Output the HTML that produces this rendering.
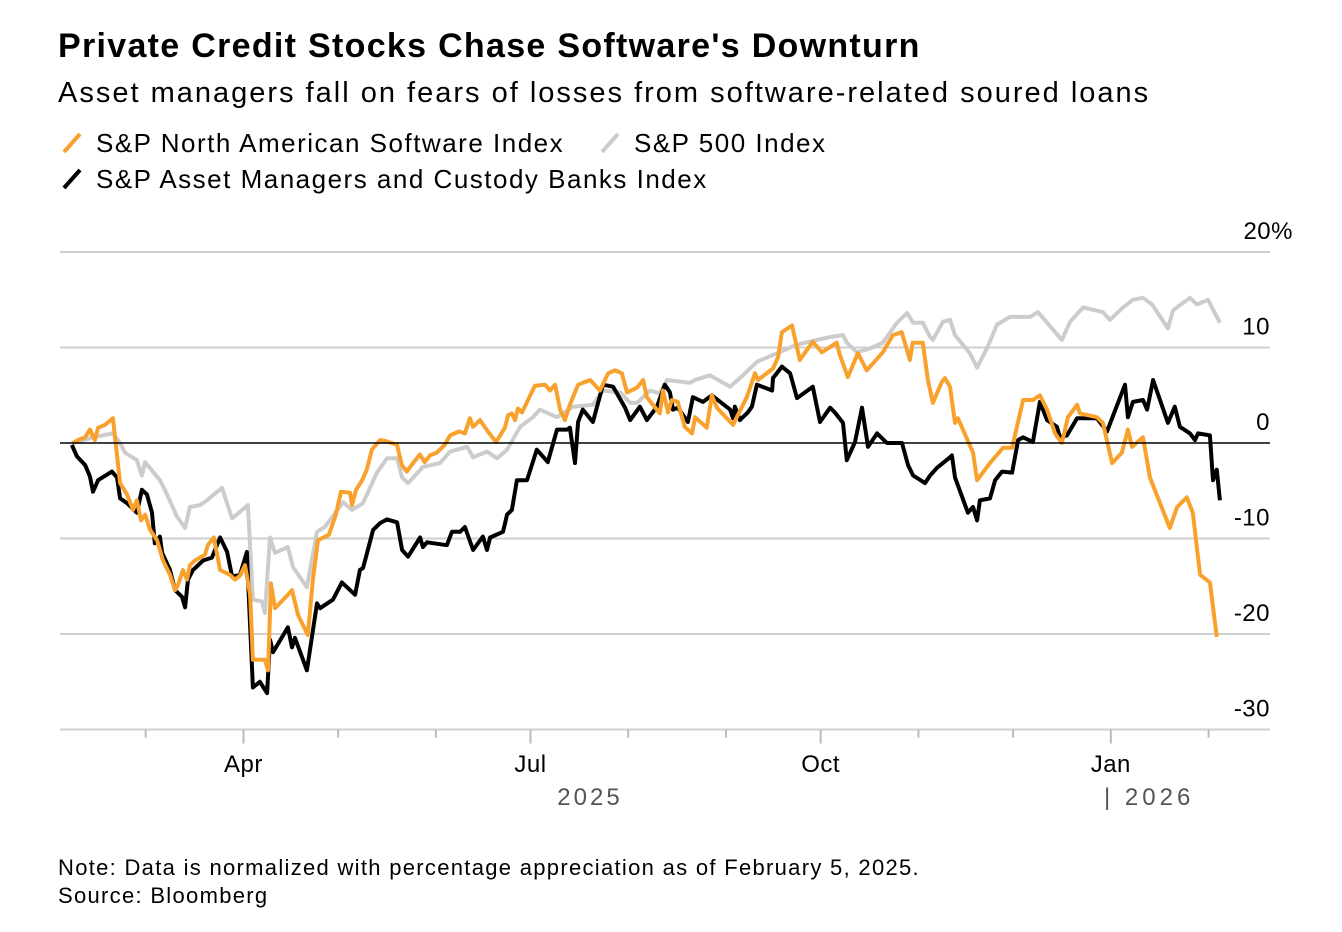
<!DOCTYPE html>
<html><head><meta charset="utf-8">
<style>
body{margin:0;background:#fff;font-family:"Liberation Sans",sans-serif;color:#000;}
#wrap{position:relative;width:1342px;height:932px;overflow:hidden;}
.t{position:absolute;white-space:nowrap;}
</style></head>
<body>
<div id="wrap">
<div class="t" style="left:58px;top:27px;font-size:34px;font-weight:bold;letter-spacing:1.3px;">Private Credit Stocks Chase Software's Downturn</div>
<div class="t" style="left:58px;top:77px;font-size:29px;letter-spacing:2px;">Asset managers fall on fears of losses from software-related soured loans</div>
<div class="t" style="left:60px;top:128px;font-size:26px;letter-spacing:1.5px;"><svg width="24" height="24" style="vertical-align:-3px;margin-right:12px"><line x1="4" y1="21" x2="20" y2="3" stroke="#f9a12d" stroke-width="4"/></svg>S&amp;P North American Software Index</div>
<div class="t" style="left:598px;top:128px;font-size:26px;letter-spacing:1.5px;"><svg width="24" height="24" style="vertical-align:-3px;margin-right:12px"><line x1="4" y1="21" x2="20" y2="3" stroke="#cccccc" stroke-width="4"/></svg>S&amp;P 500 Index</div>
<div class="t" style="left:60px;top:164px;font-size:26px;letter-spacing:1.5px;"><svg width="24" height="24" style="vertical-align:-3px;margin-right:12px"><line x1="4" y1="21" x2="20" y2="3" stroke="#000" stroke-width="4"/></svg>S&amp;P Asset Managers and Custody Banks Index</div>
<svg id="chart" width="1342" height="932" style="position:absolute;left:0;top:0"></svg>
<div class="t" style="left:58px;top:855px;font-size:22px;letter-spacing:1.3px;">Note: Data is normalized with percentage appreciation as of February 5, 2025.</div>
<div class="t" style="left:58px;top:883px;font-size:22px;letter-spacing:1.3px;">Source: Bloomberg</div>
</div>
<script>
const softDays=[1,2.5,4.8,6.3,7.9,8.9,11.1,13.6,15.9,18.1,20,21.2,22.5,23.8,25.4,27.6,29.5,31.7,33.3,34.2,35.8,37.1,38,39.6,42.8,43.7,45.6,47.6,50.7,52.3,53.9,55.5,57.1,58,61.8,62.8,63.7,65,69.1,70.4,72.3,75.4,77,78.6,82.1,84.3,85.9,88.8,89.4,90.7,92.6,94.1,95.7,97,98.3,100.2,103.7,105.2,106.8,109,110.9,112.5,114.1,116.3,118.8,120.5,123.3,125.2,126.8,127.8,130,132.5,135.1,137.9,138.9,140.1,141.1,142,143.3,145.2,147.4,150.6,152.2,153.8,155.4,156.9,158.5,161.1,164.9,168,170.6,172.8,175,176.6,179.8,181.7,182.9,187,188,189.6,190.8,192.7,194.9,197.2,198.2,201.9,203.5,205.1,210.2,214.6,217.2,218.1,222.9,224.5,225.7,228.9,231.4,235.5,238.4,243.1,244.1,246.6,249.8,252.6,257.7,260.9,263.7,266.3,267.2,270.4,272,273.6,276.4,277.4,279,280.6,281.5,286.3,287.6,291.7,295.8,298.7,302.2,305.3,307.5,309.8,312.3,314.5,316.4,319.3,320.2,325.6,327.5,330.4,333.5,335.4,336.7,340.2,342.4,348.7,351,354.1,356,358.3,361.4,363.6];
const softVals=[0,0.3,0.6,1.4,0.3,1.6,1.9,2.6,-4.2,-5.4,-7,-6,-8.1,-7.5,-9.1,-10.2,-12.3,-13.8,-15.4,-14.9,-13.3,-14.3,-12.8,-12.3,-11.7,-10.7,-9.9,-13.3,-13.8,-14.3,-13.9,-12.8,-15.9,-22.7,-22.7,-23.8,-14.7,-17.3,-15.9,-15.4,-18,-20.1,-14.3,-10.2,-9.6,-7.5,-5.1,-5.2,-6.5,-4.9,-3.9,-2.8,-0.7,-0.2,0.3,0.2,-0.2,-2.3,-3,-2,-1.2,-2,-1.3,-1,-0.2,0.8,1.2,1,2.6,1.7,2.4,1.2,0.1,1.6,2.9,3.1,2.4,3.6,3.2,4.5,6,6.1,5.5,6.1,3.5,2.4,4,6.1,6.6,5.5,7.3,7.6,7.3,5.3,5.8,6.6,4.8,3.1,5.5,3.2,4.5,4.3,1.7,1,2.7,1.6,5,3.7,1.9,4.8,7.3,6.6,7.8,9,11.6,12.3,8.7,10.6,9.5,10.5,9.2,6.9,9.4,7.6,9.5,11.3,11.6,8.7,10.5,10.5,6.6,4.2,6.4,6.8,5.9,2.1,2.6,-1,-3.9,-2.1,-0.5,-0.5,4.5,4.5,5,3.5,1,0,2.7,4,3.1,2.7,2.1,-2.1,-1,1.4,-0.4,0.6,-3.6,-8.9,-6.7,-5.7,-7.3,-13.8,-14.6,-20.3];
const amDays=[0.6,2.2,4.8,6.3,7.3,8.9,13.3,14.9,15.9,18.1,21.2,22.8,24.4,26,26.9,28.5,29.2,31.7,33.3,35.5,36.5,37.4,39,42.2,45,47.6,49.8,51.4,53.9,56.1,56.4,58,60.2,62.5,63.4,64.4,69.1,70.4,71.3,75.1,78.3,79.3,83.4,86.2,90.4,91.9,92.9,94.2,96.1,98.3,100.5,103.7,105.3,107.2,111,111.9,113.2,119.5,121.1,123.7,125.2,127.8,130.9,132.2,133.2,137.3,138.6,140.1,141.7,144.9,148,151.5,154.4,157.6,158.5,160.1,161.1,162.6,165.8,169,172.2,176,177.6,180.7,182.9,186.1,188.6,190.2,191.2,192.7,195.9,197.5,200.7,203.5,209.3,210.2,210.8,212.4,214.9,216.2,217.8,222.6,222.9,225.7,228.3,230.5,235.5,237.8,241,242.5,245.1,246.3,248.9,251.1,253,255.9,259,263.8,265.7,267.3,271.1,272.7,274.9,279,279.6,280.6,284.7,286.3,287.6,288.5,291.7,293.3,295.5,298.7,300.6,302.2,305.3,307.5,309.8,312.9,313.9,316.1,319.3,325.6,328.8,334.5,335.4,337,340.2,341.5,343.4,348.1,350.3,351.9,355.1,356.7,357.6,361.4,362.4,363.6,364.6];
const amVals=[-0.2,-1.4,-2.3,-3.5,-5.1,-3.9,-3,-3.6,-5.8,-6.3,-7.3,-4.9,-5.4,-7.3,-10.5,-9.8,-11.5,-13.3,-15.4,-16.1,-17.2,-14.3,-13.3,-12.3,-12,-9.9,-11.4,-14,-13.8,-11.4,-14,-25.6,-25,-26.2,-20.6,-21.9,-19.3,-21.4,-20.4,-23.8,-16.8,-17.3,-16.4,-14.6,-15.9,-13.3,-13.1,-11.5,-9.1,-8.4,-8,-8.3,-11.2,-11.9,-9.9,-10.9,-10.4,-10.7,-9.3,-9.3,-8.8,-11.2,-9.8,-11.2,-9.9,-9.3,-7.5,-7,-3.9,-3.9,-0.7,-2,1.4,1.4,1.6,-2.1,2.2,3.5,2.2,6.1,5.9,3.7,2.4,3.8,2.4,3.8,6.1,5.3,3.5,3.7,2.2,4.8,4.3,5,3.5,2.6,3.8,2.4,3.2,3.8,6.1,5.5,6.8,8,7.3,4.7,5.9,2.2,3.7,3.2,2.1,-1.8,0.1,3.7,-0.4,1,0,0,-2.3,-3.4,-4.2,-3.4,-2.6,-1.5,-1.3,-3.6,-7.3,-6.7,-8.1,-6,-5.8,-3.9,-3,-3.1,0.3,0.6,0.1,4.3,2.4,1.7,0.6,0.8,2.6,2.6,1.2,6.1,2.7,4.3,4.5,3.5,6.6,2.1,3.8,1.7,1,0.3,1,0.8,-3.9,-2.8,-6];
const spDays=[0.6,2.2,7.3,13.6,15.9,17.4,21.2,22.8,23.8,28.5,30.1,33.9,36.5,38,41.2,43.4,48.2,51.4,56.4,58,60.9,61.8,63.4,65,69.1,70.7,75.1,78.3,80.8,86.6,89.4,92.9,97.3,100.5,103.7,105.3,107.2,111.9,117.3,120.5,125.9,127.8,132.2,135.4,138.6,142.7,146.8,149,154.4,159.5,165.8,169,174.4,177.6,179.8,183.9,187,189.3,196.6,198.2,202.9,209.3,213.4,217.8,224.2,230.5,236.8,241,245.1,246.3,249.5,253.6,257.7,262.2,265.4,267.3,270.4,272.7,273.6,276.8,279,280.6,285.3,287.6,290.7,293.9,298,304.4,306.9,309.8,314.5,317.1,321.2,327.5,329.7,333.9,337,340.2,343.1,348.1,349.7,355.1,357.3,360.8,364.6];
const spVals=[0,0.1,0.6,1,0,-1,-1.8,-3.4,-2,-3.9,-4.9,-7.7,-8.9,-6.7,-6.5,-6,-4.7,-7.9,-6.5,-16.4,-16.6,-17.8,-9.9,-11.5,-10.9,-13,-15.1,-9.3,-8.8,-6.2,-7,-6.3,-3.1,-1.6,-1.6,-3.6,-4.2,-2.5,-2.1,-0.9,-0.4,-1.5,-0.9,-1.6,-0.7,1.7,2.7,3.5,2.7,3.8,4,5.5,5.3,4.2,4.2,5.5,5.2,6.6,6.3,6.6,7.1,5.9,7.1,8.5,9.4,10.3,10.8,11.1,11.3,10.5,9.5,9.9,10.5,12.6,13.6,12.6,12.6,11.1,10.8,12.7,12.9,11.3,9.4,7.9,9.9,12.4,13.2,13.2,13.7,12.6,10.8,12.7,14.2,13.7,12.9,14.2,15,15.2,14.5,12,13.9,15.2,14.5,15,12.6];
const yTicks=[20,10,0,-10,-20,-30];
const yTickLabels=["20%","10","0","-10","-20","-30"];
const monthDays=[24,55,85,116,146,177,208,238,269,299,330,361];
const monthLabels=["","Apr","","","Jul","","","Oct","","","Jan",""];

const NS="http://www.w3.org/2000/svg";
const svg=document.getElementById('chart');
const X0=60,X1=1270;
function xScale(d){return 70+d*3.154;}
function yScale(v){return 443-v*9.55;}
function mk(tag,attrs){const e=document.createElementNS(NS,tag);for(const k in attrs)e.setAttribute(k,attrs[k]);svg.appendChild(e);return e;}

yTicks.forEach((v,i)=>{
  const y=yScale(v);
  if(v!==0&&v!==-30){const g=mk('line',{x1:X0,x2:X1,y1:y,y2:y,stroke:'#cfcfcf','stroke-width':2});
  
  }
  const isPct=yTickLabels[i].indexOf('%')>=0;
  const t=mk('text',{x:isPct?1293:1270,y:y-13,'text-anchor':'end','font-size':24,'letter-spacing':'0.5','font-family':'Liberation Sans, sans-serif',fill:'#000'});
  t.textContent=yTickLabels[i];
  
  
});
const ax=mk('line',{x1:X0,x2:X1,y1:yScale(-30),y2:yScale(-30),stroke:'#cfcfcf','stroke-width':2});


monthDays.forEach((d,i)=>{
  const x=xScale(d);
  const tk=mk('line',{x1:x,x2:x,y1:yScale(-30),y2:yScale(-30)+(monthLabels[i]?14:8),stroke:'#bbb','stroke-width':2});
  
  
  if(monthLabels[i]){
    const t=mk('text',{x:x,y:772,'text-anchor':'middle','font-size':24,'letter-spacing':'0.5','font-family':'Liberation Sans, sans-serif'});
    t.textContent=monthLabels[i];
    
    
  }
});
const y25=mk('text',{x:590,y:805,'text-anchor':'middle','font-size':24,'letter-spacing':'3','fill':'#555','font-family':'Liberation Sans, sans-serif'});
y25.textContent='2025';


const y26=mk('text',{x:1104,y:805,'font-size':24,'letter-spacing':'4','fill':'#555','font-family':'Liberation Sans, sans-serif','xml:space':'preserve'});
y26.textContent='|  2026';



function line(days,vals,color,name){
  const d=days.map((dd,i)=>(i?'L':'M')+xScale(dd).toFixed(1)+','+yScale(vals[i]).toFixed(1)).join('');
  const p=mk('path',{d:d,fill:'none',stroke:color,'stroke-width':4,'stroke-linejoin':'round'});
  
  
}
line(spDays,spVals,'#cccccc','sp500-line');
line(amDays,amVals,'#000000','asset-managers-line');
line(softDays,softVals,'#f9a12d','software-index-line');
const z=mk('line',{x1:X0,x2:X1,y1:yScale(0),y2:yScale(0),stroke:'#000','stroke-width':1.5});


</script>
</body></html>
